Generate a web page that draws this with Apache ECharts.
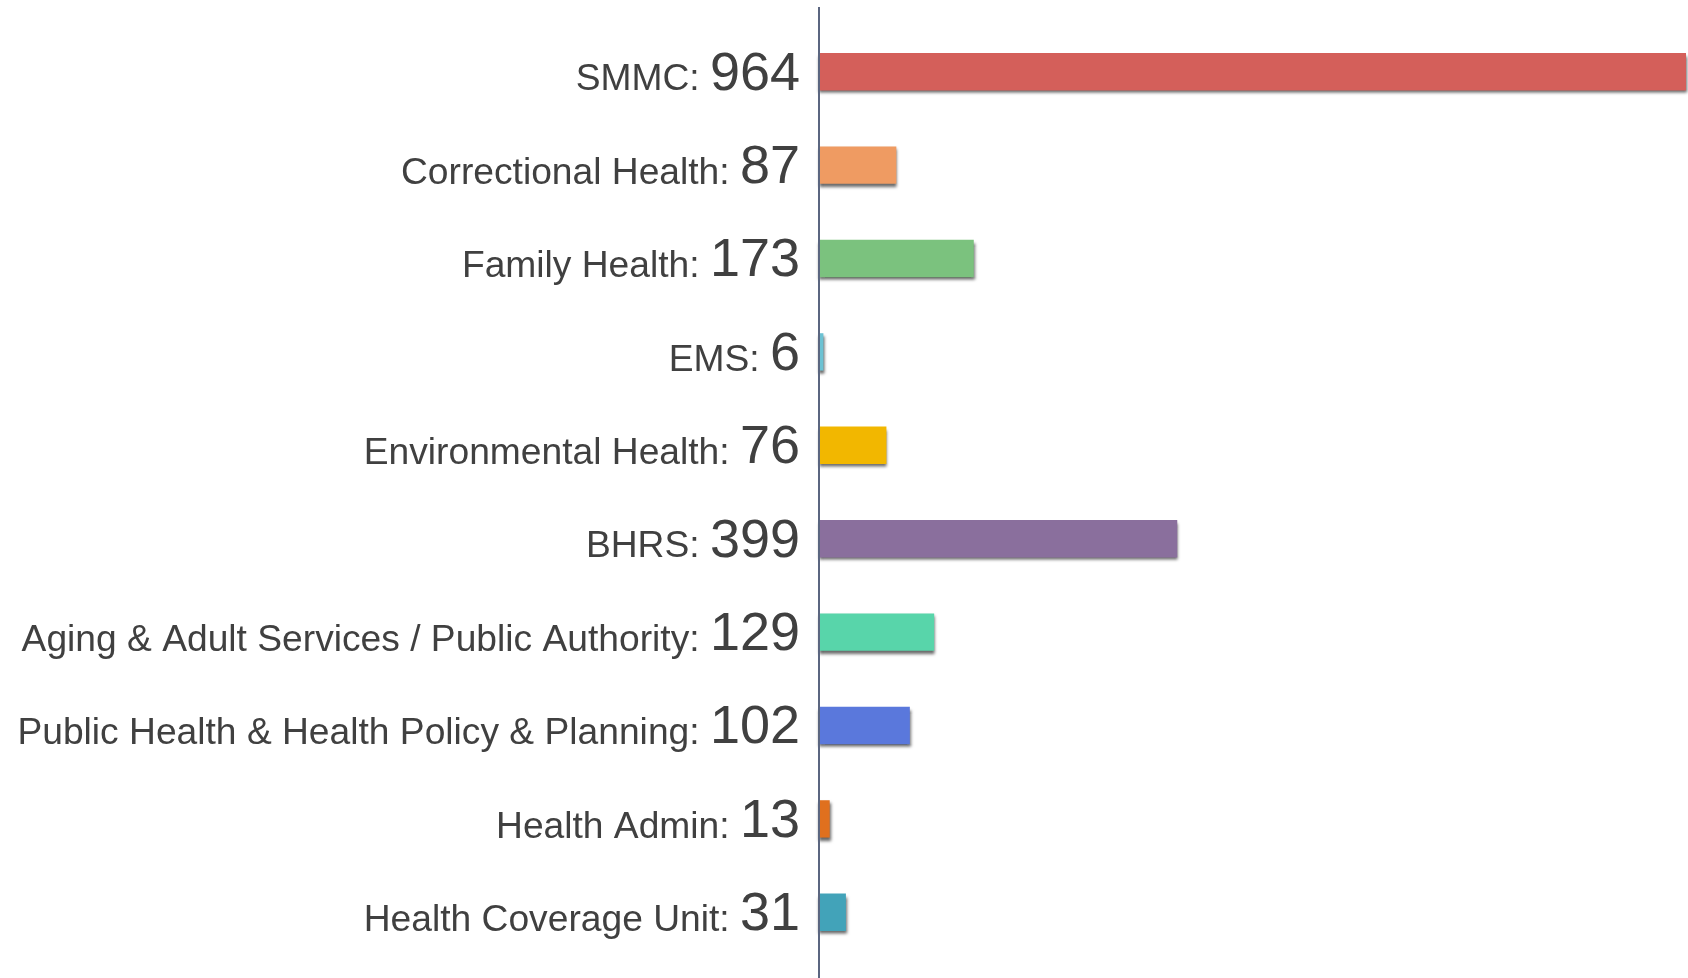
<!DOCTYPE html>
<html>
<head>
<meta charset="utf-8">
<title>Employees by department</title>
<script src="https://cdn.jsdelivr.net/npm/echarts@6/dist/echarts.min.js"></script>
<style>
  html, body { margin: 0; padding: 0; background: #fff; }
  #main { width: 1688px; height: 978px; }
</style>
</head>
<body>
<div id="main"></div>
<script>
// data
var departments = [
  'SMMC',
  'Correctional Health',
  'Family Health',
  'EMS',
  'Environmental Health',
  'BHRS',
  'Aging & Adult Services / Public Authority',
  'Public Health & Health Policy & Planning',
  'Health Admin',
  'Health Coverage Unit'
];
var counts = [964, 87, 173, 6, 76, 399, 129, 102, 13, 31];
var barColors = [
  '#d45f5a', '#ef9b62', '#7bc27e', '#6cc2d3', '#f2b700',
  '#8a6f9d', '#58d5aa', '#5a78dc', '#e0701e', '#42a3b9'
];

var chart = echarts.init(document.getElementById('main'));

var option = {
  animation: false,
  grid: { left: 818, right: 2, top: 25, bottom: 19 },
  xAxis: { type: 'value', min: 0, max: 964, show: false },
  yAxis: {
    type: 'category',
    inverse: true,
    data: departments,
    axisLine: { show: false },
    axisTick: { show: false },
    splitLine: { show: false },
    axisLabel: {
      margin: 18,
      formatter: function (name, i) {
        return '{n|' + name + ': }{v|' + counts[i] + '}';
      },
      rich: {
        // bottom padding lifts the names onto the baseline of the big numbers
        n: { fontSize: 37.2, color: '#404040', fontFamily: 'Liberation Sans', verticalAlign: 'bottom', padding: [0, 0, 3, 0] },
        v: { fontSize: 54, color: '#404040', fontFamily: 'Liberation Sans', verticalAlign: 'bottom', lineHeight: 60 }
      }
    }
  },
  series: [{
    type: 'bar',
    barWidth: '40%',
    data: counts.map(function (c, i) {
      return { value: c, itemStyle: { color: barColors[i] } };
    }),
    itemStyle: {
      shadowColor: 'rgba(0,0,0,0.6)',
      shadowBlur: 3,
      shadowOffsetX: 1,
      shadowOffsetY: 3
    }
  }]
};
chart.setOption(option);

// the vertical axis line runs past the plot area, top to bottom
var x0 = chart.convertToPixel({ xAxisIndex: 0 }, 0);
chart.setOption({
  graphic: [{
    type: 'line',
    z: 100,
    shape: { x1: x0 + 1, y1: 7, x2: x0 + 1, y2: 978 },
    style: { stroke: '#5b6680', lineWidth: 2 }
  }]
});
</script>
</body>
</html>
